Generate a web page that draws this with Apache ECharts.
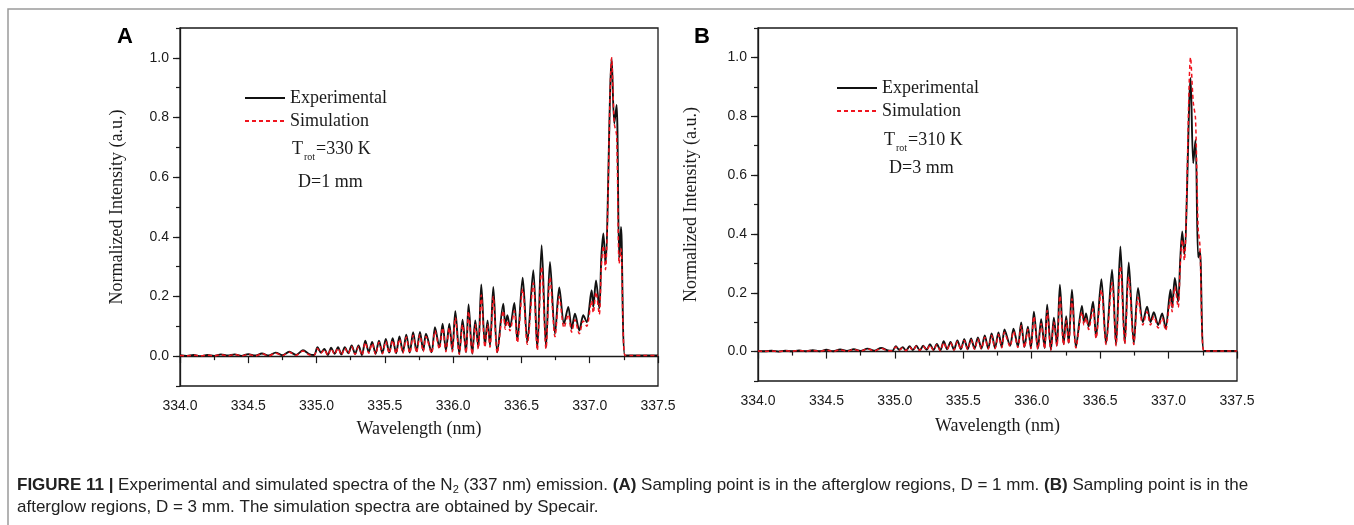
<!DOCTYPE html>
<html lang="en">
<head>
    <meta charset="UTF-8">
    <title>N2 (337 nm) emission spectra</title>
    <script type="text/javascript" src="https://cdn.jsdelivr.net/npm/echarts@6/dist/echarts.min.js"></script>
    <style>
        html, body { margin: 0; padding: 0; background: #fff; }
        #chart { width: 1354px; height: 525px; }
    </style>
</head>
<body>
<div id="chart"></div>
<script type="text/javascript">
    // wavelength grid (nm), shared by both panels: peaks and valleys
    var wl = [
        334.00, 334.05, 334.10, 334.15, 334.20, 334.25, 334.30, 334.35, 334.40, 334.45,
        334.50, 334.55, 334.60, 334.65, 334.70, 334.75, 334.80, 334.85, 334.90, 334.95,
        334.982, 335.007, 335.032, 335.057, 335.082, 335.107, 335.132, 335.157, 335.182, 335.207,
        335.232, 335.257, 335.282, 335.307, 335.332, 335.357, 335.382, 335.407, 335.432, 335.457,
        335.482, 335.507, 335.532, 335.557, 335.582, 335.607, 335.632, 335.657, 335.682, 335.707,
        335.732,
        335.757, 335.781, 335.801, 335.842, 335.867, 335.899, 335.923, 335.947, 335.972, 335.994,
        336.016, 336.045, 336.069, 336.094, 336.113, 336.140, 336.162, 336.184, 336.206, 336.233,
        336.252, 336.270, 336.294, 336.323, 336.367, 336.382, 336.397, 336.416, 336.448, 336.470,
        336.509, 336.543, 336.587, 336.616, 336.648, 336.680, 336.709, 336.746, 336.777, 336.812,
        336.843, 336.868, 336.892, 336.924, 336.953, 336.978,
        337.014, 337.026, 337.046, 337.070, 337.085, 337.100, 337.115, 337.161, 337.180, 337.197,
        337.216, 337.229, 337.258, 337.30, 337.40, 337.50
    ];

    // (A) D = 1 mm
    var expA = [
        0.003, 0.001, 0.004, 0.000, 0.004, 0.001, 0.006, 0.002, 0.006, 0.001,
        0.007, 0.002, 0.009, 0.002, 0.012, 0.003, 0.015, 0.004, 0.020, 0.006,
        0.004, 0.030, 0.012, 0.024, 0.004, 0.028, 0.008, 0.030, 0.006, 0.030,
        0.010, 0.036, 0.008, 0.036, 0.004, 0.052, 0.014, 0.048, 0.008, 0.052,
        0.010, 0.058, 0.012, 0.060, 0.010, 0.066, 0.014, 0.072, 0.012, 0.080,
        0.016,
        0.081, 0.019, 0.075, 0.013, 0.097, 0.030, 0.109, 0.019, 0.109, 0.019,
        0.151, 0.008, 0.122, 0.013, 0.173, 0.008, 0.120, 0.030, 0.240, 0.036,
        0.120, 0.036, 0.232, 0.013, 0.176, 0.103, 0.137, 0.097, 0.178, 0.053,
        0.263, 0.047, 0.288, 0.025, 0.372, 0.030, 0.316, 0.075, 0.230, 0.109,
        0.165, 0.092, 0.142, 0.086, 0.137, 0.114,
        0.221, 0.165, 0.254, 0.160, 0.330, 0.411, 0.310, 0.998, 0.780, 0.842,
        0.330, 0.433, 0.002, 0.002, 0.002, 0.002
    ];
    var simA = [
        0.002, 0.001, 0.003, 0.001, 0.003, 0.001, 0.005, 0.001, 0.006, 0.001,
        0.006, 0.001, 0.008, 0.001, 0.010, 0.002, 0.013, 0.003, 0.017, 0.004,
        0.003, 0.026, 0.010, 0.022, 0.003, 0.025, 0.006, 0.027, 0.004, 0.027,
        0.008, 0.032, 0.006, 0.032, 0.003, 0.046, 0.010, 0.043, 0.006, 0.047,
        0.008, 0.050, 0.010, 0.053, 0.008, 0.058, 0.010, 0.064, 0.010, 0.070,
        0.012,
        0.072, 0.015, 0.066, 0.010, 0.085, 0.024, 0.095, 0.015, 0.095, 0.015,
        0.130, 0.006, 0.105, 0.010, 0.150, 0.006, 0.105, 0.024, 0.205, 0.030,
        0.105, 0.030, 0.200, 0.010, 0.152, 0.090, 0.120, 0.085, 0.152, 0.045,
        0.225, 0.040, 0.245, 0.020, 0.300, 0.025, 0.265, 0.065, 0.200, 0.095,
        0.140, 0.080, 0.122, 0.075, 0.118, 0.100,
        0.185, 0.145, 0.215, 0.140, 0.300, 0.370, 0.290, 1.000, 0.780, 0.740,
        0.310, 0.360, 0.002, 0.002, 0.002, 0.002
    ];

    // (B) D = 3 mm
    var expB = [
        0.002, 0.001, 0.003, 0.000, 0.003, 0.001, 0.004, 0.001, 0.005, 0.001,
        0.006, 0.001, 0.007, 0.002, 0.008, 0.002, 0.010, 0.003, 0.012, 0.004,
        0.003, 0.018, 0.006, 0.015, 0.003, 0.018, 0.005, 0.020, 0.004, 0.020,
        0.006, 0.025, 0.005, 0.026, 0.004, 0.035, 0.008, 0.033, 0.006, 0.038,
        0.008, 0.042, 0.008, 0.045, 0.010, 0.048, 0.010, 0.055, 0.010, 0.062,
        0.012,
        0.065, 0.015, 0.075, 0.020, 0.078, 0.017, 0.099, 0.015, 0.085, 0.012,
        0.136, 0.010, 0.110, 0.012, 0.159, 0.006, 0.115, 0.020, 0.227, 0.025,
        0.120, 0.030, 0.210, 0.015, 0.155, 0.100, 0.130, 0.085, 0.170, 0.050,
        0.246, 0.027, 0.278, 0.023, 0.357, 0.030, 0.303, 0.027, 0.216, 0.100,
        0.153, 0.100, 0.134, 0.090, 0.130, 0.080,
        0.210, 0.150, 0.250, 0.170, 0.310, 0.408, 0.330, 0.930, 0.640, 0.720,
        0.320, 0.340, 0.002, 0.002, 0.002, 0.002
    ];
    var simB = [
        0.002, 0.001, 0.002, 0.000, 0.003, 0.001, 0.004, 0.001, 0.004, 0.001,
        0.005, 0.001, 0.006, 0.001, 0.007, 0.002, 0.009, 0.002, 0.011, 0.003,
        0.003, 0.016, 0.005, 0.013, 0.003, 0.016, 0.004, 0.018, 0.004, 0.018,
        0.005, 0.022, 0.004, 0.023, 0.003, 0.031, 0.007, 0.030, 0.005, 0.034,
        0.007, 0.038, 0.007, 0.040, 0.008, 0.043, 0.009, 0.049, 0.009, 0.055,
        0.010,
        0.058, 0.013, 0.066, 0.017, 0.069, 0.014, 0.088, 0.013, 0.076, 0.010,
        0.120, 0.008, 0.095, 0.010, 0.140, 0.005, 0.100, 0.018, 0.190, 0.022,
        0.105, 0.026, 0.180, 0.012, 0.135, 0.090, 0.115, 0.075, 0.145, 0.045,
        0.210, 0.024, 0.235, 0.020, 0.290, 0.026, 0.255, 0.024, 0.185, 0.090,
        0.135, 0.090, 0.120, 0.080, 0.115, 0.072,
        0.180, 0.135, 0.220, 0.150, 0.290, 0.380, 0.310, 1.000, 0.850, 0.790,
        0.420, 0.360, 0.002, 0.002, 0.002, 0.002
    ];

    var yTicks = [0, 0.2, 0.4, 0.6, 0.8, 1.0];
    var serif = 'Liberation Serif, Times New Roman, serif';
    var sans = 'Liberation Sans, Arial, sans-serif';
    var ink = '#1a1a1a';

    function pairs(vals) {
        return wl.map(function (x, i) { return [x, vals[i]]; });
    }

    function xAx(grid, gap) {
        return {
            gridIndex: grid, type: 'value', min: 334, max: 337.5, interval: 0.5,
            name: 'Wavelength (nm)', nameLocation: 'middle', nameGap: gap,
            nameTextStyle: {fontFamily: serif, fontSize: 18, color: ink},
            axisLine: {lineStyle: {color: ink, width: 1.3}},
            axisTick: {length: 7, lineStyle: {color: ink, width: 1.2}},
            minorTick: {show: true, splitNumber: 2, length: 4, lineStyle: {color: ink, width: 1.2}},
            axisLabel: {margin: 13, fontFamily: sans, fontSize: 14, color: ink,
                formatter: function (v) { return v.toFixed(1); }},
            splitLine: {show: false}
        };
    }

    function yAx(grid, gap) {
        return {
            gridIndex: grid, type: 'value', min: -0.1, max: 1.1, interval: 0.1, position: 'left',
            name: 'Normalized Intensity (a.u.)', nameLocation: 'middle', nameGap: gap,
            nameTextStyle: {fontFamily: serif, fontSize: 18, color: ink},
            axisLine: {show: true, lineStyle: {color: ink, width: 1.3}},
            axisTick: {length: 7, customValues: yTicks, lineStyle: {color: ink, width: 1.2}},
            axisLabel: {margin: 11, fontFamily: sans, fontSize: 14, color: ink, customValues: yTicks,
                formatter: function (v) { return v.toFixed(1); }},
            splitLine: {show: false}
        };
    }

    // short ticks at every 0.1
    function yMinor(grid) {
        return {
            gridIndex: grid, type: 'value', min: -0.1, max: 1.1, interval: 0.1, position: 'left',
            axisLine: {show: false},
            axisTick: {show: true, length: 4, lineStyle: {color: ink, width: 1.2}},
            axisLabel: {show: false},
            splitLine: {show: false}
        };
    }

    function expSeries(x, y, vals) {
        return {
            name: 'Experimental', type: 'line', xAxisIndex: x, yAxisIndex: y,
            data: pairs(vals), showSymbol: false, symbol: 'none', smooth: 0.3,
            lineStyle: {color: '#111', width: 1.9}, itemStyle: {color: '#111'},
            animation: false, z: 2
        };
    }

    function simSeries(x, y, vals) {
        return {
            name: 'Simulation', type: 'line', xAxisIndex: x, yAxisIndex: y,
            data: pairs(vals), showSymbol: false, symbol: 'none', smooth: 0.3,
            lineStyle: {color: '#f0141e', width: 1.5, type: [4, 3]}, itemStyle: {color: '#f0141e'},
            animation: false, z: 3
        };
    }

    function legendAt(left, top) {
        return {
            left: left, top: top, orient: 'vertical', selectedMode: false,
            itemWidth: 40, itemHeight: 14, itemGap: 5, itemStyle: {opacity: 0},
            textStyle: {fontFamily: serif, fontSize: 18, color: ink, lineHeight: 18},
            data: ['Experimental', 'Simulation']
        };
    }

    function note(left, top, text) {
        return {
            left: left, top: top, padding: 0, text: text,
            textStyle: {
                fontFamily: serif, fontSize: 18, fontWeight: 'normal', color: ink,
                rich: {
                    t: {fontFamily: serif, fontSize: 18, color: ink},
                    s: {fontFamily: serif, fontSize: 10, color: ink, padding: [16, 1, 0, 1]}
                }
            }
        };
    }

    var caption = '{b|FIGURE 11 | }Experimental and simulated spectra of the N{s|2} (337 nm) emission. ' +
        '{b|(A)} Sampling point is in the afterglow regions, D = 1 mm. {b|(B)} Sampling point is in the\n' +
        'afterglow regions, D = 3 mm. The simulation spectra are obtained by Specair.';

    var dom = document.getElementById('chart');
    var myChart = echarts.init(dom, null, {renderer: 'canvas'});

    var option = {
        backgroundColor: '#fff',
        animation: false,
        title: [
            {left: 117, top: 26, padding: 0, text: 'A',
                textStyle: {fontFamily: sans, fontSize: 22, fontWeight: 'bold', color: '#000'}},
            {left: 694, top: 26, padding: 0, text: 'B',
                textStyle: {fontFamily: sans, fontSize: 22, fontWeight: 'bold', color: '#000'}},
            note(292, 136, '{t|T}{s|rot}{t|=330 K}'),
            note(298, 173, 'D=1 mm'),
            note(884, 127, '{t|T}{s|rot}{t|=310 K}'),
            note(889, 159, 'D=3 mm'),
            {
                left: 17, top: 474, padding: 0, text: caption,
                textStyle: {
                    fontFamily: sans, fontSize: 17, fontWeight: 'normal', color: '#222', lineHeight: 22,
                    rich: {
                        b: {fontFamily: sans, fontSize: 17, fontWeight: 'bold', color: '#222', lineHeight: 22},
                        s: {fontFamily: sans, fontSize: 11, color: '#222', padding: [9, 0, 0, 0], lineHeight: 22}
                    }
                }
            }
        ],
        legend: [legendAt(239, 84), legendAt(831, 74)],
        grid: [
            {left: 180, top: 28, width: 478, height: 358, show: true, borderColor: ink, borderWidth: 1.3},
            {left: 758, top: 28, width: 479, height: 353, show: true, borderColor: ink, borderWidth: 1.3}
        ],
        xAxis: [xAx(0, 34), xAx(1, 36)],
        yAxis: [yAx(0, 54), yMinor(0), yAx(1, 58), yMinor(1)],
        series: [
            expSeries(0, 0, expA),
            simSeries(0, 0, simA),
            expSeries(1, 2, expB),
            simSeries(1, 2, simB)
        ],
        graphic: [
            {type: 'polyline', silent: true,
                shape: {points: [[8, 525], [8, 9], [1354, 9]]},
                style: {stroke: '#9a9a9a', lineWidth: 1.5, fill: null}}
        ]
    };

    if (option && typeof option === 'object') {
        myChart.setOption(option, true);
    }
</script>
</body>
</html>
